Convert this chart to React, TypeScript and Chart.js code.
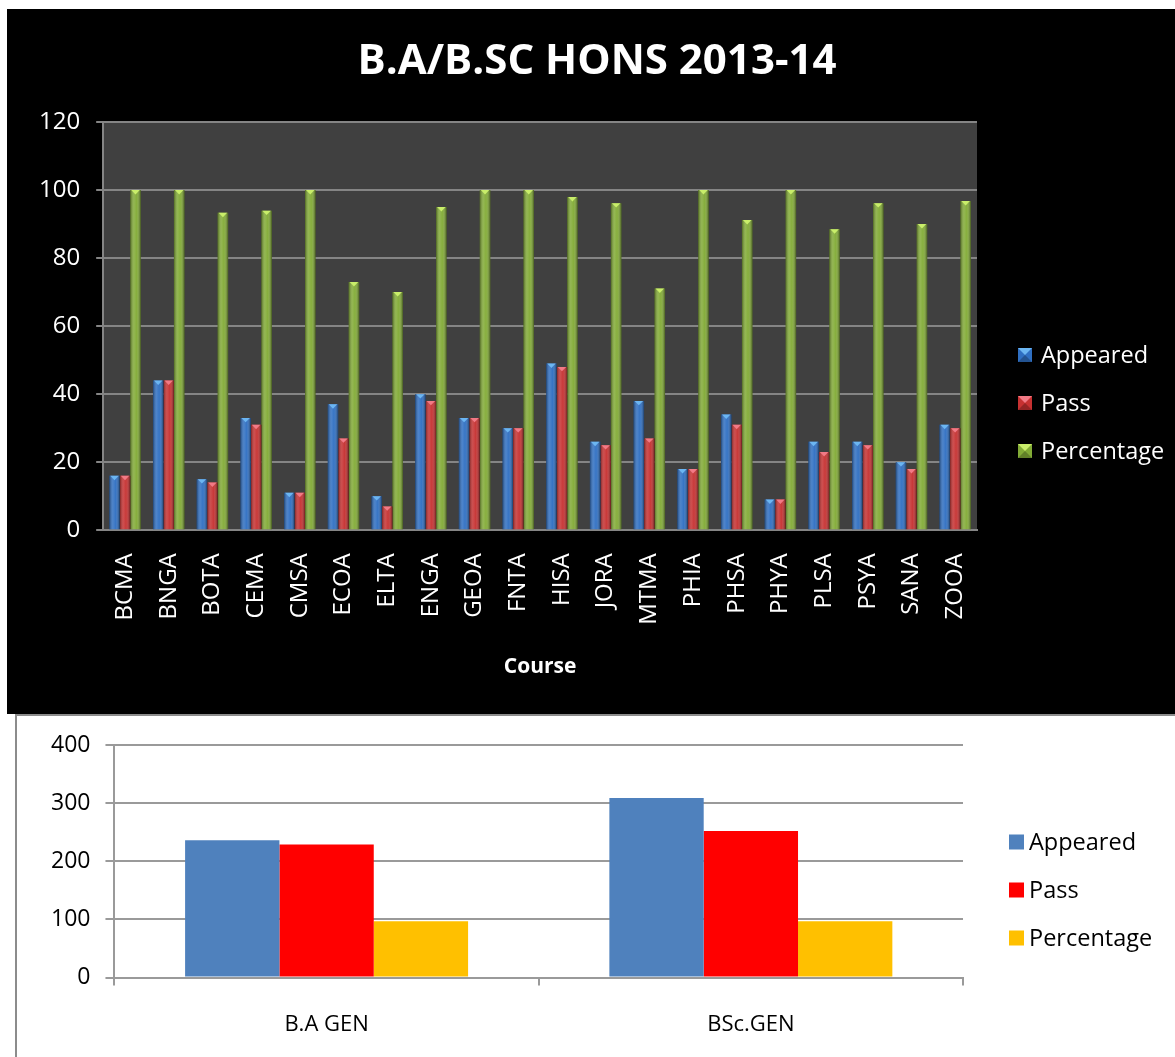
import React, { useEffect, useRef } from "react";
import { Chart, registerables } from "chart.js";

Chart.register(...registerables);

// ---------- Data ----------
const courses = ["BCMA", "BNGA", "BOTA", "CEMA", "CMSA", "ECOA", "ELTA", "ENGA", "GEOA", "FNTA", "HISA", "JORA", "MTMA", "PHIA", "PHSA", "PHYA", "PLSA", "PSYA", "SANA", "ZOOA"];
const honsAppeared = [16, 44, 15, 33, 11, 37, 10, 40, 33, 30, 49, 26, 38, 18, 34, 9, 26, 26, 20, 31];
const honsPass = [16, 44, 14, 31, 11, 27, 7, 38, 33, 30, 48, 25, 27, 18, 31, 9, 23, 25, 18, 30];
const honsPercentage = [100, 100, 93.33, 93.94, 100, 72.97, 70, 95, 100, 100, 97.96, 96.15, 71.05, 100, 91.18, 100, 88.46, 96.15, 90, 96.77];
const honsTicks = [0, 20, 40, 60, 80, 100, 120];
const honsTitle = "B.A/B.SC HONS 2013-14";
const honsAxisTitle = "Course";

const genCourses = ["B.A GEN", "BSc.GEN"];
const genAppeared = [236, 309];
const genPass = [229, 252];
const genPercentage = [97, 97];
const genTicks = [0, 100, 200, 300, 400];

const seriesNames = ["Appeared", "Pass", "Percentage"];

const FONT = "'Open Sans', 'DejaVu Sans', sans-serif";

// ---------- Plugins ----------
const plotBgBeforePlugin = (color: string) => ({
  id: "plotBgBefore",
  beforeDraw(chart: any) {
    const { ctx, chartArea } = chart;
    ctx.save();
    ctx.fillStyle = color;
    ctx.fillRect(chartArea.left, chartArea.top, chartArea.right - chartArea.left, chartArea.bottom - chartArea.top);
    ctx.restore();
  },
});

const titlePlugin = (text: string, x: number, y: number, size: number, color: string) => ({
  id: "customTitle",
  afterDraw(chart: any) {
    const ctx = chart.ctx;
    ctx.save();
    ctx.fillStyle = color;
    ctx.font = `bold ${size}px ${FONT}`;
    ctx.textAlign = "center";
    ctx.textBaseline = "middle";
    ctx.fillText(text, x, y);
    ctx.restore();
  },
});

const bar3dPlugin = (tipColors: string[]) => ({
  id: "bar3d",
  afterDatasetsDraw(chart: any) {
    const ctx = chart.ctx;
    ctx.save();
    chart.data.datasets.forEach((_ds: any, di: number) => {
      const meta = chart.getDatasetMeta(di);
      meta.data.forEach((el: any) => {
        const { x, y, base, width } = el.getProps(["x", "y", "base", "width"], true);
        const left = x - width / 2;
        const g = ctx.createLinearGradient(left, 0, left + width, 0);
        g.addColorStop(0, "rgba(0,0,0,0.38)");
        g.addColorStop(0.35, "rgba(255,255,255,0.14)");
        g.addColorStop(0.6, "rgba(255,255,255,0.04)");
        g.addColorStop(1, "rgba(0,0,0,0.45)");
        ctx.fillStyle = g;
        ctx.fillRect(left, y, width, base - y);
        ctx.beginPath();
        ctx.moveTo(left + 1, y);
        ctx.lineTo(left + width - 1, y);
        ctx.lineTo(x, y + width * 0.42);
        ctx.closePath();
        ctx.fillStyle = tipColors[di];
        ctx.fill();
      });
    });
    ctx.restore();
  },
});

const legendPlugin = (cfg: { x: number; textX: number; y0: number; dy: number; box: number; size: number; color: string; tips?: string[] }) => ({
  id: "customLegend",
  afterDraw(chart: any) {
    const ctx = chart.ctx;
    ctx.save();
    chart.data.datasets.forEach((ds: any, i: number) => {
      const cy = cfg.y0 + i * cfg.dy;
      const top = cy - cfg.box / 2;
      ctx.fillStyle = ds.backgroundColor;
      ctx.fillRect(cfg.x, top, cfg.box, cfg.box);
      if (cfg.tips) {
        ctx.beginPath();
        ctx.moveTo(cfg.x, top);
        ctx.lineTo(cfg.x + cfg.box, top);
        ctx.lineTo(cfg.x + cfg.box / 2, cy);
        ctx.closePath();
        ctx.fillStyle = cfg.tips[i];
        ctx.fill();
        ctx.beginPath();
        ctx.moveTo(cfg.x, top + cfg.box);
        ctx.lineTo(cfg.x + cfg.box, top + cfg.box);
        ctx.lineTo(cfg.x + cfg.box / 2, cy);
        ctx.closePath();
        ctx.fillStyle = "rgba(0,0,0,0.25)";
        ctx.fill();
      }
      ctx.fillStyle = cfg.color;
      ctx.font = `${cfg.size}px ${FONT}`;
      ctx.textBaseline = "middle";
      ctx.textAlign = "left";
      ctx.fillText(ds.label, cfg.textX, cy + 1);
    });
    ctx.restore();
  },
});

// ---------- Components ----------
function HonsChart() {
  const ref = useRef<HTMLCanvasElement | null>(null);
  useEffect(() => {
    if (!ref.current) return;
    const colors = ["#2f6fc2", "#c63131", "#82ab36"];
    const tips = ["#6cb6f2", "#f27a86", "#c9ee6a"];
    const chart = new Chart(ref.current, {
      type: "bar",
      data: {
        labels: courses,
        datasets: [
          { label: seriesNames[0], data: honsAppeared, backgroundColor: colors[0] },
          { label: seriesNames[1], data: honsPass, backgroundColor: colors[1] },
          { label: seriesNames[2], data: honsPercentage, backgroundColor: colors[2] },
        ],
      },
      options: {
        responsive: false,
        animation: false,
        devicePixelRatio: 1,
        layout: { padding: { left: 16, right: 198, top: 113, bottom: 34 } },
        datasets: { bar: { categoryPercentage: 0.72, barPercentage: 1.0 } },
        plugins: {
          legend: { display: false },
          tooltip: { enabled: false },
          title: { display: false },
        },
        scales: {
          x: {
            grid: { display: false },
            border: { display: true, color: "#858585", width: 2 },
            ticks: {
              color: "#ffffff",
              font: { family: FONT, size: 24 },
              minRotation: 90,
              maxRotation: 90,
              padding: 15,
              autoSkip: false,
            },
            title: {
              display: true,
              text: honsAxisTitle,
              color: "#ffffff",
              font: { family: FONT, size: 21, weight: "bold" },
              padding: { top: 15, bottom: 0 },
            },
          },
          y: {
            min: honsTicks[0],
            max: honsTicks[honsTicks.length - 1],
            afterBuildTicks: (axis: any) => {
              axis.ticks = honsTicks.map((v) => ({ value: v }));
            },
            grid: { color: "#858585", lineWidth: 2, tickLength: 7, drawTicks: true },
            border: { display: true, color: "#858585", width: 2 },
            ticks: { color: "#ffffff", font: { family: FONT, size: 24 }, padding: 16 },
          },
        },
      } as any,
      plugins: [
        plotBgBeforePlugin("#404040"),
        bar3dPlugin(tips),
        titlePlugin(honsTitle, 590, 53, 42, "#ffffff"),
        legendPlugin({ x: 1011, textX: 1034, y0: 346, dy: 48, box: 14, size: 23.5, color: "#ffffff", tips }),
      ],
    });
    return () => chart.destroy();
  }, []);
  return <canvas ref={ref} width={1168} height={705} style={{ position: "absolute", left: 7, top: 9, background: "#000" }} />;
}

function GenChart() {
  const ref = useRef<HTMLCanvasElement | null>(null);
  useEffect(() => {
    if (!ref.current) return;
    const colors = ["#4f81bd", "#ff0000", "#ffc000"];
    const chart = new Chart(ref.current, {
      type: "bar",
      data: {
        labels: genCourses,
        datasets: [
          { label: seriesNames[0], data: genAppeared, backgroundColor: colors[0] },
          { label: seriesNames[1], data: genPass, backgroundColor: colors[1] },
          { label: seriesNames[2], data: genPercentage, backgroundColor: colors[2] },
        ],
      },
      options: {
        responsive: false,
        animation: false,
        devicePixelRatio: 1,
        layout: { padding: { left: 19, right: 212, top: 29, bottom: 0 } },
        datasets: { bar: { categoryPercentage: 0.667, barPercentage: 1.0 } },
        plugins: {
          legend: { display: false },
          tooltip: { enabled: false },
        },
        scales: {
          x: {
            grid: { display: true, drawOnChartArea: false, drawTicks: true, tickLength: 8, color: "#9a9a9a", lineWidth: 2, offset: true },
            border: { display: true, color: "#9a9a9a", width: 2 },
            ticks: { color: "#000000", font: { family: FONT, size: 22 }, padding: 26 },
          },
          y: {
            min: genTicks[0],
            max: genTicks[genTicks.length - 1],
            afterBuildTicks: (axis: any) => {
              axis.ticks = genTicks.map((v) => ({ value: v }));
            },
            grid: { color: "#9a9a9a", lineWidth: 2, tickLength: 9, drawTicks: true },
            border: { display: true, color: "#9a9a9a", width: 2 },
            ticks: { color: "#000000", font: { family: FONT, size: 23 }, padding: 15 },
          },
        },
      } as any,
      plugins: [
        legendPlugin({ x: 992, textX: 1012, y0: 126, dy: 48, box: 15, size: 23.5, color: "#000000" }),
      ],
    });
    return () => chart.destroy();
  }, []);
  return <canvas ref={ref} width={1158} height={348} style={{ position: "absolute", left: 17, top: 716 }} />;
}

export default function App() {
  return (
    <div style={{ position: "absolute", left: 0, top: 0, width: 1175, height: 1057, background: "#ffffff", overflow: "hidden" }}>
      <div
        style={{
          position: "absolute",
          left: 15,
          top: 714,
          width: 1160,
          height: 343,
          borderLeft: "2px solid #8c8c8c",
          borderTop: "2px solid #8c8c8c",
          boxSizing: "border-box",
          background: "#ffffff",
        }}
      />
      <HonsChart />
      <GenChart />
    </div>
  );
}
